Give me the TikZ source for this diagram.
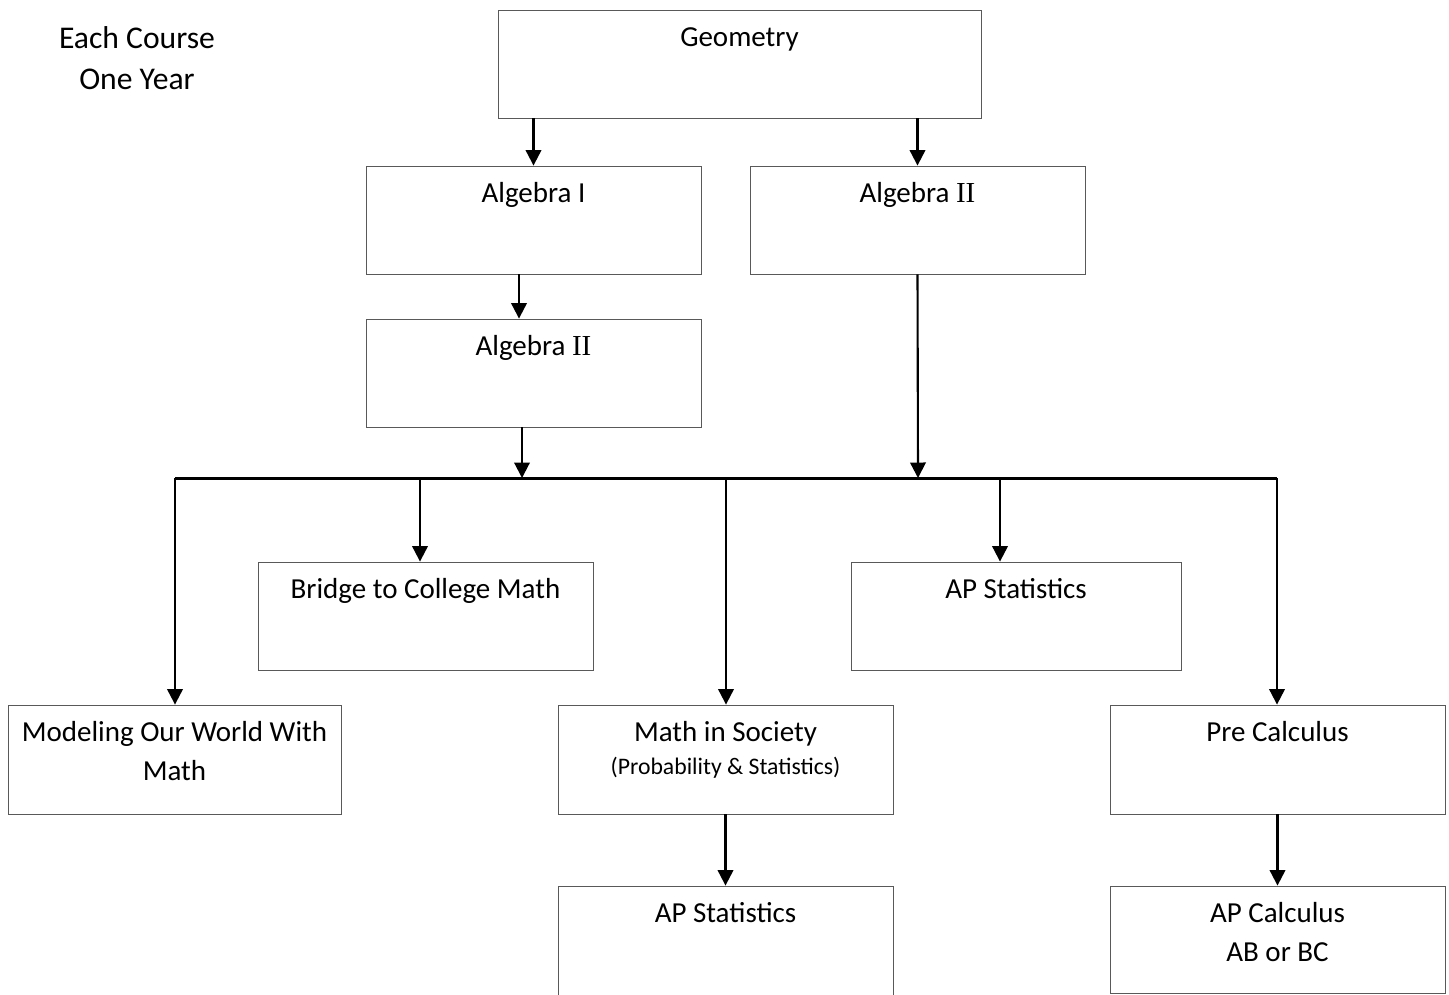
\documentclass[tikz,border=0pt]{standalone}
\usepackage{fontspec}
\setmainfont{Carlito}
\newfontfamily\romfont{Liberation Serif}
\usepackage{tikz}
\usetikzlibrary{arrows.meta,positioning}
\newcommand{\two}{{\romfont II}}

\begin{document}
\begin{tikzpicture}[
  x=0.02cm, y=-0.02cm,
  course/.style={draw=black!65, line width=0.5pt, inner sep=0pt, align=flush center, text width=6.7cm,
    text height=7.3mm, text depth=14.3mm, font=\fontsize{16.5}{22}\selectfont},
  note/.style={align=flush center, inner sep=0pt, font=\fontsize{18}{23.3}\selectfont},
  arr/.style={-{Triangle[length=3.1mm, width=3.1mm]}, line width=1.2pt},
  bus/.style={line width=1.7pt}
]
\useasboundingbox (0,0) rectangle (1449,994);

\node[note] (year) at (137,58) {Each Course\\One Year};

\node[course, text width=9.66cm] (geo) at (739.5,64) {Geometry};
\node[course] (alg1) at (533.5,220) {Algebra I};
\node[course] (alg2r) at (917.5,220) {Algebra \two};
\node[course] (alg2l) at (533.5,373) {Algebra \two};
\node[course] (bridge) at (425.5,616) {Bridge to College Math};
\node[course, text width=6.6cm] (stat1) at (1016,616) {AP Statistics};
\node[course, text width=6.66cm, text depth=14.5mm] (model) at (174.5,759.5) {Modeling Our World With\\Math};
\node[course, text depth=14.5mm] (society) at (725.5,759.5) {Math in Society\\[-3pt]{\fontsize{13.5}{16}\selectfont (Probability \& Statistics)}};
\node[course, text depth=14.5mm] (precalc) at (1277.5,759.5) {Pre Calculus};
\node[course, text depth=15.5mm] (stat2) at (725.5,943) {AP Statistics};
\node[course, text depth=14.1mm] (apcalc) at (1277.5,939.5) {AP Calculus\\AB or BC};

% junctions on the bus line
\coordinate (b1) at (175,478);
\coordinate (b2) at (420,478);
\coordinate (b3) at (522,478);
\coordinate (b4) at (726,478);
\coordinate (b5) at (918,478);
\coordinate (b6) at (1000,478);
\coordinate (b7) at (1277,478);
\draw[bus] (b1) -- (b7);

\draw[arr] (geo.south -| alg1.north) -- (alg1.north);
\draw[arr] (geo.south -| alg2r.north) -- (alg2r.north);
\draw[arr] ([xshift=-2.9mm]alg1.south) -- ([xshift=-2.9mm]alg2l.north);
\draw[arr] (alg2l.south -| b3) -- (b3);
\draw[arr] (alg2r.south) -- (b5);

\draw[arr] (b1) -- (b1 |- model.north);
\draw[arr] (b2) -- (b2 |- bridge.north);
\draw[arr] (b4) -- (b4 |- society.north);
\draw[arr] (b6) -- (b6 |- stat1.north);
\draw[arr] (b7) -- (b7 |- precalc.north);

\draw[arr] (society) -- (stat2);
\draw[arr] (precalc) -- (apcalc);
\end{tikzpicture}
\end{document}
